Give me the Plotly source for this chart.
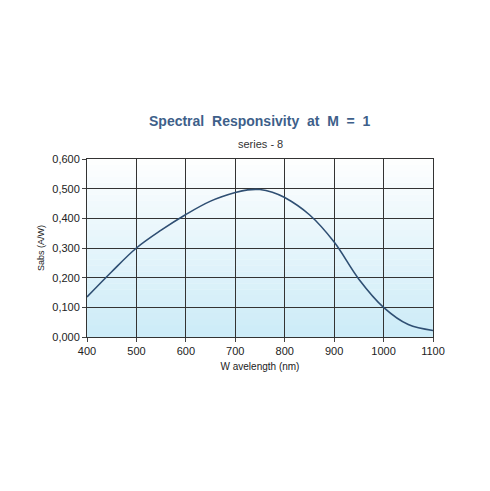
import plotly.graph_objects as go

wavelength = [400, 450, 500, 550, 600, 650, 700, 725, 750, 775, 800, 850, 900, 950, 1000, 1050, 1100]
responsivity = [0.135, 0.22, 0.30, 0.36, 0.413, 0.458, 0.487, 0.496, 0.497, 0.488, 0.47, 0.412, 0.32, 0.195, 0.10, 0.042, 0.022]

fig = go.Figure()
fig.add_trace(go.Scatter(x=wavelength, y=responsivity, mode='lines', line_shape='spline',
                         line=dict(color='#2f4f73', width=1.6), showlegend=False))

# soft white-to-blue gradient in the plot area, built from thin bands
n = 30
for i in range(n):
    t = i / n
    r = int(255 - (255 - 205) * (1 - t))
    g = int(255 - (255 - 236) * (1 - t))
    b = int(255 - (255 - 248) * (1 - t))
    fig.add_shape(type='rect', xref='x domain', yref='y domain', x0=0, x1=1,
                  y0=t, y1=t + 1 / n + 0.002, fillcolor=f'rgb({r},{g},{b})',
                  line_width=0, layer='below')

fig.add_annotation(text='<b>Spectral  Responsivity  at  M  =  1</b>', xref='paper', yref='paper',
                   x=0.5, y=1.27, showarrow=False, font=dict(size=14, color='#3e5f8a', family='Arial'))
fig.add_annotation(text='series - 8', xref='paper', yref='paper',
                   x=0.5, y=1.13, showarrow=False, font=dict(size=11, color='#333', family='Arial'))

fig.update_layout(width=490, height=491, margin=dict(l=79, r=65, t=151, b=162),
                  paper_bgcolor='white', plot_bgcolor='white', separators=',.',
                  font=dict(family='Arial', color='#222'))
fig.update_xaxes(range=[400, 1100], dtick=100, showgrid=True, gridcolor='#333', gridwidth=1.2,
                 showline=True, linecolor='#333', mirror=True, ticks='outside', ticklen=4,
                 tickfont=dict(size=11), title=dict(text='W avelength (nm)', font=dict(size=10), standoff=6))
fig.update_yaxes(range=[0, 0.6], dtick=0.1, tickformat='.3f', showgrid=True, gridcolor='#333', gridwidth=1.2,
                 showline=True, linecolor='#333', mirror=True, ticks='outside', ticklen=4,
                 tickfont=dict(size=11), title=dict(text='Sabs (A/W)', font=dict(size=9), standoff=6))

fig.write_html("out.html")
